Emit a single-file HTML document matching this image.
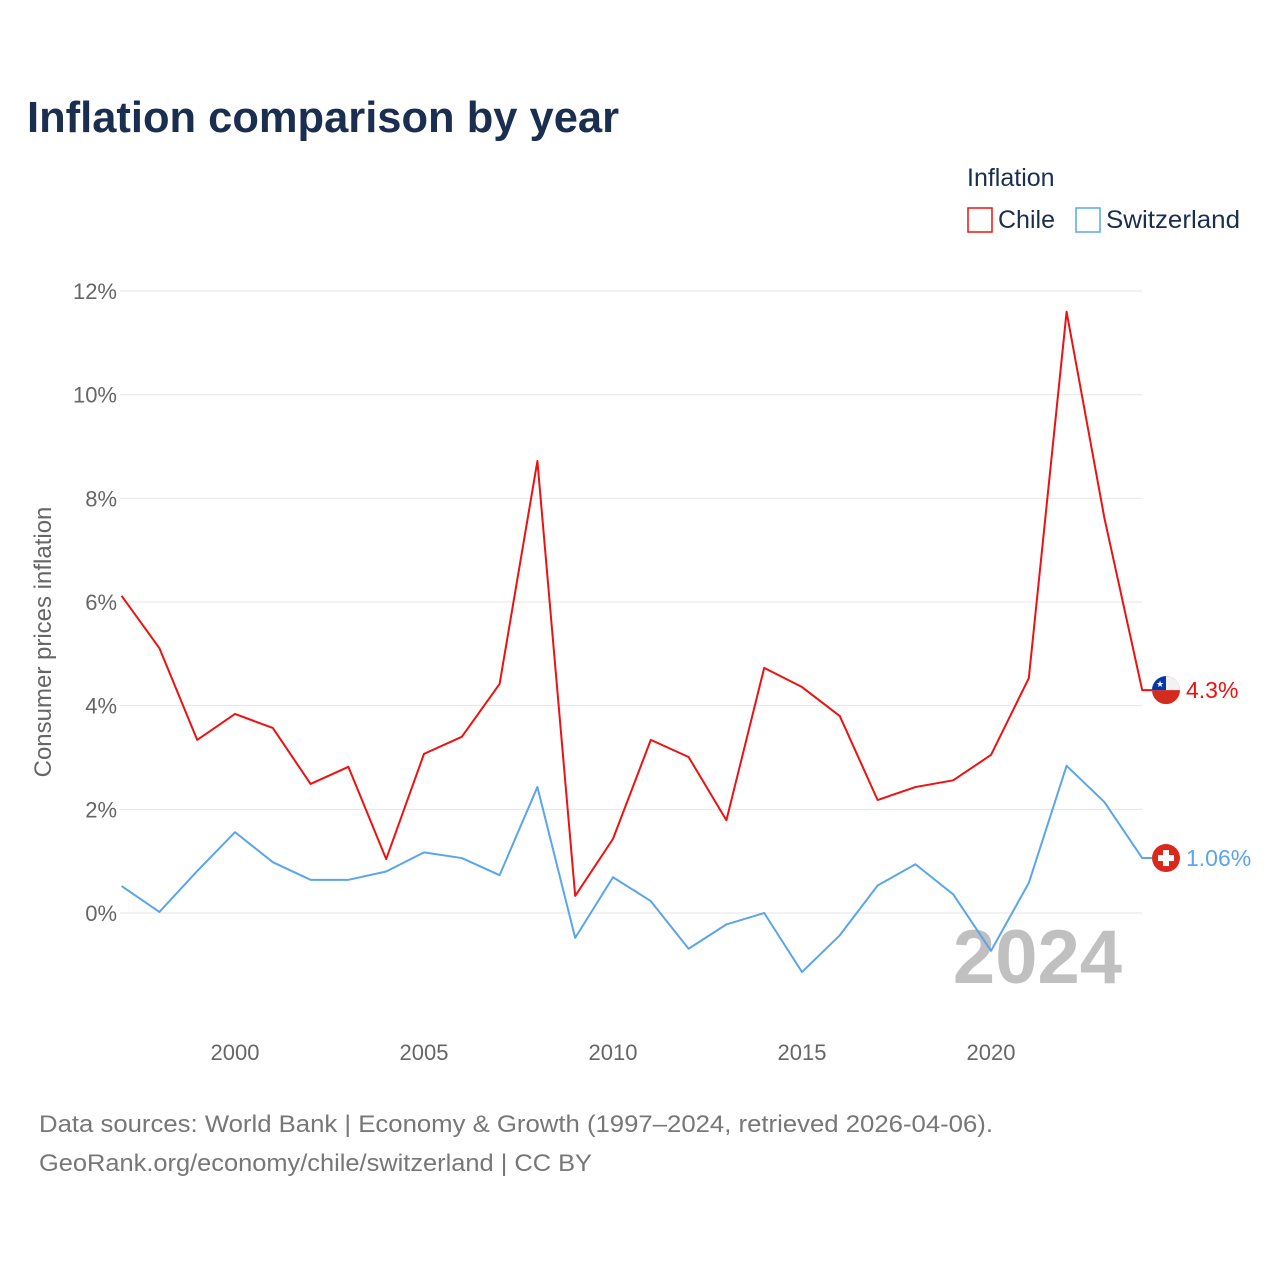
<!DOCTYPE html>
<html><head><meta charset="utf-8">
<style>
body{margin:0;background:#fff;font-family:"Liberation Sans",sans-serif;}
#wrap{position:relative;width:1280px;height:1280px;overflow:hidden;}
</style></head>
<body><div id="wrap">
<svg id="chart" width="1280" height="1280" xmlns="http://www.w3.org/2000/svg"></svg>
</div>
<script>
const years=[1997,1998,1999,2000,2001,2002,2003,2004,2005,2006,2007,2008,2009,2010,2011,2012,2013,2014,2015,2016,2017,2018,2019,2020,2021,2022,2023,2024];
const chile=[6.12,5.11,3.34,3.84,3.57,2.49,2.82,1.04,3.07,3.40,4.42,8.72,0.33,1.43,3.34,3.01,1.79,4.73,4.36,3.80,2.18,2.43,2.56,3.05,4.53,11.6,7.62,4.3];
const swiss=[0.52,0.02,0.81,1.56,0.98,0.64,0.64,0.80,1.17,1.06,0.73,2.43,-0.48,0.69,0.23,-0.69,-0.22,0.00,-1.14,-0.43,0.53,0.94,0.36,-0.73,0.58,2.84,2.14,1.06];
const yTicks=[0,2,4,6,8,10,12];
const xTicks=[2000,2005,2010,2015,2020];
const NS='http://www.w3.org/2000/svg';
const svg=document.getElementById('chart');
function x(v){return 235+(v-2000)*37.8;}
function y(v){return 913-v*51.83;}
function mk(tag,attrs,text){const e=document.createElementNS(NS,tag);for(const k in attrs)e.setAttribute(k,attrs[k]);if(text!==undefined)e.textContent=text;svg.appendChild(e);return e;}
const F='"Liberation Sans",sans-serif';
let t=mk('text',{x:27,y:132,'font-size':44,'font-weight':'bold',fill:'#1a2e4f','font-family':F,textLength:592,lengthAdjust:'spacingAndGlyphs'},'Inflation comparison by year');


t=mk('text',{x:967,y:186,'font-size':25,fill:'#1a2e4f','font-family':F},'Inflation');


let r=mk('rect',{x:968,y:208,width:24,height:24,fill:'none',stroke:'#ee1111','stroke-width':1.5});


t=mk('text',{x:998,y:228,'font-size':25,fill:'#1a2e4f','font-family':F},'Chile');


r=mk('rect',{x:1076,y:208,width:24,height:24,fill:'none',stroke:'#5aa5ec','stroke-width':1.5});


t=mk('text',{x:1106,y:228,'font-size':25,fill:'#1a2e4f','font-family':F,textLength:134,lengthAdjust:'spacingAndGlyphs'},'Switzerland');


yTicks.forEach(v=>{
 const g=mk('line',{x1:120,x2:1142,y1:y(v),y2:y(v),stroke:'#e6e6e6','stroke-width':1});
 
 
 const l=mk('text',{x:117,y:y(v)+8,'font-size':22,fill:'#666','text-anchor':'end','font-family':F},v+'%');
 
 
});
xTicks.forEach(v=>{
 const l=mk('text',{x:x(v),y:1060,'font-size':22,fill:'#666','text-anchor':'middle','font-family':F},String(v));
 
 
});
t=mk('text',{x:0,y:0,'font-size':24,fill:'#666','text-anchor':'middle','font-family':F,transform:'translate(51,642) rotate(-90)'},'Consumer prices inflation');


t=mk('text',{x:1122,y:983,'font-size':76,'font-weight':'bold',fill:'#c0c0c0','text-anchor':'end','font-family':F},'2024');


function line(data,color,name){
 const pts=data.map((v,i)=>x(years[i])+','+y(v)).join(' ');
 const last=data[data.length-1];
 const p=mk('polyline',{points:pts+' '+(x(2024)+10)+','+y(last),fill:'none',stroke:color,'stroke-width':2,'stroke-linejoin':'round'});
 
 
}
line(swiss,'#5aa5ec','switzerland-line');
line(chile,'#ee1111','chile-line');
const cy=y(chile[chile.length-1]), sy=y(swiss[swiss.length-1]);
let c=mk('circle',{cx:1166,cy:cy,r:14,fill:'#d52b1e'});


mk('path',{d:`M1152 ${cy} A14 14 0 0 1 1180 ${cy} Z`,fill:'#f2f2f2'});
mk('path',{d:`M1152 ${cy} A14 14 0 0 1 1166 ${cy-14} L1166 ${cy} Z`,fill:'#0039a6'});
mk('text',{x:1160,y:cy-3,'font-size':9,fill:'#fff','text-anchor':'middle','font-family':F},'★');
t=mk('text',{x:1186,y:cy+8,'font-size':23,fill:'#ee1111','font-family':F},'4.3%');


c=mk('circle',{cx:1166,cy:sy,r:14,fill:'#da291c'});


mk('rect',{x:1163,y:sy-8,width:6,height:16,fill:'#fff'});
mk('rect',{x:1158,y:sy-3,width:16,height:6,fill:'#fff'});
t=mk('text',{x:1186,y:sy+8,'font-size':23,fill:'#5aa5ec','font-family':F},'1.06%');


t=mk('text',{x:39,y:1132,'font-size':24,fill:'#777','font-family':F,textLength:954,lengthAdjust:'spacingAndGlyphs'},'Data sources: World Bank | Economy & Growth (1997–2024, retrieved 2026-04-06).');


t=mk('text',{x:39,y:1171,'font-size':24,fill:'#777','font-family':F,textLength:553,lengthAdjust:'spacingAndGlyphs'},'GeoRank.org/economy/chile/switzerland | CC BY');


</script>
</body></html>
